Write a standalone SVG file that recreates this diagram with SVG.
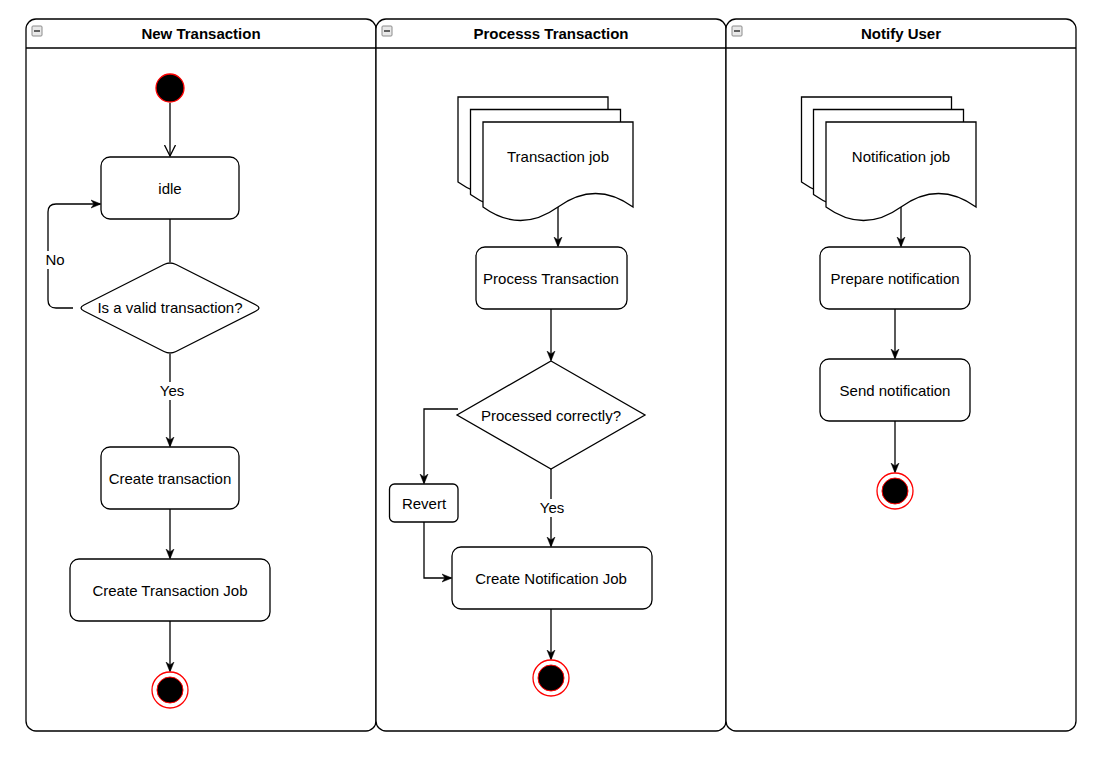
<svg xmlns="http://www.w3.org/2000/svg" width="1117" height="763" viewBox="0 0 1117 763">
<defs>
<style>
.lane{fill:#fff;stroke:#000;stroke-width:1.3}
.hd{fill:none;stroke:#000;stroke-width:1.3}
.title{font-family:"Liberation Sans",Arial,sans-serif;font-size:15px;font-weight:bold;fill:#000;text-anchor:middle}
.t{font-family:"Liberation Sans",Arial,sans-serif;font-size:15px;fill:#000;text-anchor:middle}
.box{fill:#fff;stroke:#000;stroke-width:1.3}
.edge{fill:none;stroke:#000;stroke-width:1.3}
.lbl{fill:#fff}
.icon{fill:#e8e8e8;stroke:#8c8c8c;stroke-width:1}
</style>
<marker id="arr" viewBox="0 0 10 10" refX="9" refY="5" markerWidth="10" markerHeight="10" markerUnits="userSpaceOnUse" orient="auto">
<path d="M0,1 L10,5 L0,9 L3,5 Z" fill="#000" stroke="#000" stroke-width="0.5"/>
</marker>
<marker id="open" viewBox="0 0 12 12" refX="11" refY="6" markerWidth="12" markerHeight="12" markerUnits="userSpaceOnUse" orient="auto">
<path d="M0,0.5 L11,6 L0,11.5" fill="none" stroke="#000" stroke-width="1.3"/>
</marker>
<path id="doc" d="M0,0 H150 V85 Q112.5,58 75,85 Q37.5,112 0,85 Z" class="box"/>
<g id="collapse">
<rect x="0.5" y="0.5" width="10" height="10" rx="1" class="icon"/>
<line x1="2.5" y1="5.5" x2="8.5" y2="5.5" stroke="#333" stroke-width="1.5"/>
</g>
</defs>
<rect width="1117" height="763" fill="#fff"/>

<g id="lane-new-transaction">
<rect class="lane" x="26" y="19" width="350" height="712" rx="10"/>
<line class="hd" x1="26" y1="48" x2="376" y2="48"/>
<use href="#collapse" x="31.5" y="25.5"/>
<text class="title" x="201" y="39">New Transaction</text>
</g>
<g id="lane-process-transaction">
<rect class="lane" x="376" y="19" width="350" height="712" rx="10"/>
<line class="hd" x1="376" y1="48" x2="726" y2="48"/>
<use href="#collapse" x="381.5" y="25.5"/>
<text class="title" x="551" y="39">Processs Transaction</text>
</g>
<g id="lane-notify-user">
<rect class="lane" x="726" y="19" width="350" height="712" rx="10"/>
<line class="hd" x1="726" y1="48" x2="1076" y2="48"/>
<use href="#collapse" x="731.5" y="25.5"/>
<text class="title" x="901" y="39">Notify User</text>
</g>

<g id="connectors">
<line class="edge" x1="170" y1="103" x2="170" y2="156" marker-end="url(#open)"/>
<line class="edge" x1="170" y1="219" x2="170" y2="262"/>
<path class="edge" d="M73,308 H56 Q48,308 48,300 V212 Q48,204 56,204 H100" marker-end="url(#arr)"/>
<line class="edge" x1="170" y1="354" x2="170" y2="446" marker-end="url(#arr)"/>
<line class="edge" x1="170" y1="509" x2="170" y2="558" marker-end="url(#arr)"/>
<line class="edge" x1="170" y1="621" x2="170" y2="671" marker-end="url(#arr)"/>

<line class="edge" x1="558" y1="207" x2="558" y2="246" marker-end="url(#arr)"/>
<line class="edge" x1="551" y1="309" x2="551" y2="360" marker-end="url(#arr)"/>
<path class="edge" d="M458,409 H424 V483" marker-end="url(#arr)"/>
<path class="edge" d="M424,522 V578 H451" marker-end="url(#arr)"/>
<line class="edge" x1="551" y1="469" x2="551" y2="546" marker-end="url(#arr)"/>
<line class="edge" x1="551" y1="609" x2="551" y2="659" marker-end="url(#arr)"/>

<line class="edge" x1="901" y1="207" x2="901" y2="246" marker-end="url(#arr)"/>
<line class="edge" x1="895" y1="309" x2="895" y2="358" marker-end="url(#arr)"/>
<line class="edge" x1="895" y1="421" x2="895" y2="472" marker-end="url(#arr)"/>

<rect class="lbl" x="43" y="251" width="24" height="18"/>
<text class="t" x="55" y="265">No</text>
<rect class="lbl" x="157" y="382" width="30" height="18"/>
<text class="t" x="172" y="396">Yes</text>
<rect class="lbl" x="537" y="499" width="30" height="18"/>
<text class="t" x="552" y="513">Yes</text>
</g>

<g id="start">
<circle cx="170" cy="88" r="14" fill="#000" stroke="#ff0000" stroke-width="1.3"/>
</g>
<g id="idle">
<rect class="box" x="101" y="157" width="138" height="62" rx="9"/>
<text class="t" x="170" y="194">idle</text>
</g>
<g id="valid-decision">
<path class="box" d="M164,264.5 Q170,261.5 176,264.5 L256,305 Q262,308 256,311 L176,351.5 Q170,354.5 164,351.5 L84,311 Q78,308 84,305 Z"/>
<text class="t" x="170" y="313">Is a valid transaction?</text>
</g>
<g id="create-transaction">
<rect class="box" x="101" y="447" width="138" height="62" rx="9"/>
<text class="t" x="170" y="483.5">Create transaction</text>
</g>
<g id="create-transaction-job">
<rect class="box" x="70" y="559" width="200" height="62" rx="9"/>
<text class="t" x="170" y="595.5">Create Transaction Job</text>
</g>
<g id="end1">
<circle cx="170" cy="690" r="18" fill="#fff" stroke="#ff0000" stroke-width="1.3"/>
<circle cx="170" cy="690" r="13" fill="#000" stroke="#ff0000" stroke-width="1"/>
</g>

<g id="transaction-job">
<use href="#doc" x="458" y="97"/>
<use href="#doc" x="470.5" y="109.5"/>
<use href="#doc" x="483" y="122"/>
<text class="t" x="558" y="162">Transaction job</text>
</g>
<g id="process-transaction">
<rect class="box" x="476" y="247" width="151" height="62" rx="9"/>
<text class="t" x="551" y="283.5">Process Transaction</text>
</g>
<g id="processed-decision">
<path class="box" d="M551,361 L645,415 L551,469 L457,415 Z"/>
<text class="t" x="551" y="420.5">Processed correctly?</text>
</g>
<g id="revert">
<rect class="box" x="389.5" y="484" width="68.5" height="38" rx="5"/>
<text class="t" x="424" y="508.5">Revert</text>
</g>
<g id="create-notification-job">
<rect class="box" x="452" y="547" width="200" height="62" rx="9"/>
<text class="t" x="551" y="583.5">Create Notification Job</text>
</g>
<g id="end2">
<circle cx="551" cy="678" r="18" fill="#fff" stroke="#ff0000" stroke-width="1.3"/>
<circle cx="551" cy="678" r="13" fill="#000" stroke="#ff0000" stroke-width="1"/>
</g>

<g id="notification-job">
<use href="#doc" x="801.5" y="97"/>
<use href="#doc" x="813.5" y="109.5"/>
<use href="#doc" x="826" y="122"/>
<text class="t" x="901" y="162">Notification job</text>
</g>
<g id="prepare-notification">
<rect class="box" x="820" y="247" width="150" height="62" rx="9"/>
<text class="t" x="895" y="283.5">Prepare notification</text>
</g>
<g id="send-notification">
<rect class="box" x="820" y="359" width="150" height="62" rx="9"/>
<text class="t" x="895" y="395.5">Send notification</text>
</g>
<g id="end3">
<circle cx="895" cy="491" r="18" fill="#fff" stroke="#ff0000" stroke-width="1.3"/>
<circle cx="895" cy="491" r="13" fill="#000" stroke="#ff0000" stroke-width="1"/>
</g>
</svg>
